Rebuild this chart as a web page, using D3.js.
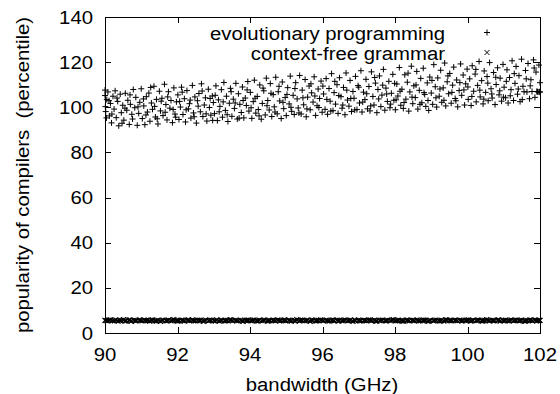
<!DOCTYPE html>
<html>
<head>
<meta charset="utf-8">
<script src="https://cdn.jsdelivr.net/npm/d3@7"></script>
<style>
  body { margin: 0; background: #fff; }
  text { font-family: "Liberation Sans", Arial, Helvetica, sans-serif; fill: #000; }
</style>
</head>
<body>
<div id="chart"></div>
<script>
// evolutionary programming, [GHz, percentile]
const evoPoints = [
  [90.00,107.6],[90.00,105.2],[90.01,100.3],[90.02,98.1],[90.05,103.4],[90.08,106.8],[90.12,96.2],[90.15,101.7],[90.18,93.1],[90.22,104.9],
  [90.25,99.2],[90.28,107.3],[90.31,95.4],[90.35,102.6],[90.38,91.8],[90.42,105.8],[90.45,97.6],[90.49,100.9],[90.52,94.3],[90.56,106.2],
  [90.60,98.7],[90.63,103.1],[90.67,92.4],[90.70,101.3],[90.74,96.9],[90.78,107.9],[90.82,99.8],[90.85,104.4],[90.89,92.0],[90.93,97.3],[90.96,102.2],
  [91.00,108.2],[91.03,95.0],[91.07,100.6],[91.10,92.3],[91.14,104.7],[91.17,97.9],[91.21,106.3],[91.24,93.8],[91.28,101.9],[91.31,99.1],
  [91.35,109.3],[91.39,95.7],[91.42,103.5],[91.46,92.6],[91.50,107.1],[91.53,98.4],[91.57,104.0],[91.60,96.3],[91.64,110.2],[91.68,101.2],
  [91.71,94.4],[91.75,106.9],[91.79,99.6],[91.82,103.0],[91.86,93.2],[91.90,108.6],[91.93,97.0],[91.97,102.4],
  [92.01,105.5],[92.04,94.6],[92.08,100.1],[92.11,108.9],[92.15,96.8],[92.19,103.8],[92.22,93.5],[92.26,107.4],[92.30,99.3],[92.33,101.6],
  [92.37,95.2],[92.41,109.7],[92.44,97.5],[92.48,104.6],[92.52,93.0],[92.55,102.9],[92.59,106.1],[92.63,98.0],[92.66,110.4],[92.70,95.9],
  [92.74,101.0],[92.77,104.2],[92.81,93.9],[92.85,108.0],[92.88,99.9],[92.92,96.5],[92.96,105.0],[92.99,102.1],
  [93.02,97.2],[93.06,109.5],[93.10,94.1],[93.13,103.3],[93.17,100.4],[93.21,107.8],[93.24,95.6],[93.28,111.0],[93.32,98.6],[93.35,104.9],
  [93.39,93.7],[93.43,101.8],[93.46,108.4],[93.50,96.0],[93.54,103.6],[93.57,99.5],[93.61,110.6],[93.65,94.8],[93.68,106.0],[93.72,101.3],
  [93.76,97.7],[93.79,109.0],[93.83,95.3],[93.87,104.1],[93.90,100.8],[93.94,111.4],[93.97,98.3],
  [94.01,106.6],[94.05,95.1],[94.09,102.5],[94.12,112.0],[94.16,97.4],[94.20,104.8],[94.23,99.0],[94.27,109.9],[94.31,94.7],[94.34,101.7],
  [94.38,107.3],[94.42,96.6],[94.45,112.9],[94.49,103.0],[94.53,98.8],[94.56,110.5],[94.60,95.9],[94.64,105.6],[94.67,100.2],[94.71,113.3],
  [94.75,97.1],[94.78,106.9],[94.82,102.8],[94.86,95.0],[94.89,111.2],[94.93,99.4],[94.97,104.3],
  [95.00,96.3],[95.04,108.7],[95.08,101.5],[95.11,113.8],[95.15,98.2],[95.19,105.3],[95.22,96.8],[95.26,110.9],[95.30,103.7],[95.33,99.7],
  [95.37,114.1],[95.41,97.0],[95.44,107.6],[95.48,101.1],[95.52,112.3],[95.55,95.8],[95.59,104.5],[95.63,109.4],[95.66,98.9],[95.70,106.4],
  [95.74,102.3],[95.77,113.5],[95.81,96.4],[95.85,100.7],[95.88,108.1],[95.92,103.9],[95.96,111.6],[95.99,97.8],
  [96.03,105.9],[96.07,99.1],[96.10,112.7],[96.14,96.9],[96.18,108.3],[96.21,102.7],[96.25,114.9],[96.29,98.5],[96.32,106.5],[96.36,101.4],
  [96.40,110.0],[96.43,97.3],[96.47,113.1],[96.51,104.7],[96.54,99.6],[96.58,108.8],[96.62,96.7],[96.65,115.2],[96.69,103.2],[96.73,100.5],
  [96.76,111.9],[96.80,98.1],[96.84,107.0],[96.87,104.0],[96.91,113.7],[96.95,99.0],[96.98,109.6],
  [97.02,101.9],[97.06,116.2],[97.09,97.9],[97.13,106.7],[97.17,103.4],[97.20,112.4],[97.24,99.3],[97.28,109.2],[97.31,98.4],[97.35,115.7],
  [97.39,104.8],[97.42,101.0],[97.46,110.7],[97.50,97.6],[97.53,107.9],[97.57,113.9],[97.61,100.3],[97.64,105.4],[97.68,116.8],[97.72,98.7],
  [97.75,108.5],[97.79,102.6],[97.83,111.5],[97.86,99.8],[97.90,106.2],[97.94,114.6],[97.97,103.1],
  [98.01,98.9],[98.05,110.3],[98.08,105.0],[98.12,117.6],[98.16,100.9],[98.19,108.0],[98.23,99.5],[98.27,114.4],[98.30,103.6],[98.34,111.1],
  [98.38,98.3],[98.41,106.8],[98.45,118.2],[98.49,101.6],[98.52,109.5],[98.56,104.3],[98.60,115.9],[98.63,99.2],[98.67,107.5],[98.71,112.8],
  [98.74,102.0],[98.78,117.3],[98.82,105.7],[98.85,100.4],[98.89,110.8],[98.93,98.6],[98.96,113.4],
  [99.00,106.3],[99.04,101.3],[99.07,118.9],[99.11,109.1],[99.15,100.1],[99.18,113.0],[99.22,104.9],[99.26,116.4],[99.29,102.2],[99.33,108.6],
  [99.37,119.6],[99.40,100.6],[99.44,111.3],[99.48,106.0],[99.51,115.0],[99.55,101.8],[99.59,109.8],[99.62,117.8],[99.66,103.9],[99.70,112.1],
  [99.73,100.2],[99.77,107.4],[99.81,119.2],[99.84,105.3],[99.88,114.3],[99.92,101.0],[99.95,110.4],[99.99,116.9],
  [100.02,103.5],[100.06,112.6],[100.10,100.8],[100.13,118.4],[100.17,107.1],[100.21,114.7],[100.24,102.4],[100.28,109.7],[100.32,120.3],[100.35,104.6],
  [100.39,111.8],[100.43,101.5],[100.46,116.1],[100.50,106.6],[100.54,113.6],[100.57,102.9],[100.61,119.8],[100.65,108.2],[100.68,104.1],[100.72,115.4],
  [100.76,101.2],[100.79,110.1],[100.83,117.5],[100.87,105.5],[100.90,112.9],[100.94,102.7],[100.98,119.0],
  [101.01,108.9],[101.05,104.2],[101.09,116.6],[101.12,101.9],[101.16,113.2],[101.20,107.8],[101.23,120.6],[101.27,103.0],[101.31,110.6],[101.34,118.1],
  [101.38,105.8],[101.42,114.0],[101.45,102.5],[101.49,121.3],[101.53,109.3],[101.56,106.9],[101.60,116.3],[101.64,106.8],[101.67,119.4],[101.71,103.8],
  [101.75,112.2],[101.78,107.0],[101.82,121.0],[101.86,104.4],[101.89,115.6],[101.93,106.9],[101.97,118.7],[102.00,110.9],[102.00,106.7],
  [90.04,95.3],[90.11,102.9],[90.19,97.0],[90.33,104.1],[90.47,92.9],[90.55,99.6],[90.69,105.5],[90.76,94.8],[90.91,100.2],
  [91.06,103.7],[91.13,96.6],[91.26,108.8],[91.37,100.4],[91.44,94.9],[91.55,102.7],[91.66,97.8],[91.73,104.6],[91.88,99.0],[91.95,95.6],
  [92.06,102.6],[92.13,106.7],[92.24,98.9],[92.35,103.2],[92.46,95.8],[92.57,100.5],[92.68,107.2],[92.79,97.1],[92.90,103.9],[92.97,94.2],
  [93.04,105.3],[93.15,98.0],[93.26,102.4],[93.37,96.7],[93.48,106.9],[93.59,101.9],[93.70,95.2],[93.81,103.0],[93.92,107.7],
  [94.03,99.8],[94.14,104.0],[94.25,96.2],[94.36,108.5],[94.47,100.7],[94.58,106.2],[94.69,97.9],[94.80,109.3],[94.91,102.2],
  [95.02,105.7],[95.13,100.0],[95.24,108.3],[95.35,97.5],[95.46,104.2],[95.57,99.3],[95.68,110.4],[95.79,105.0],[95.90,99.9],
  [96.01,109.4],[96.12,103.5],[96.23,98.3],[96.34,111.5],[96.45,105.2],[96.56,101.0],[96.67,107.6],[96.78,103.9],[96.89,98.8],
  [97.00,108.9],[97.11,102.3],[97.22,106.0],[97.33,100.6],[97.44,113.2],[97.55,103.7],[97.66,109.8],[97.77,105.9],[97.88,101.4],[97.99,110.6],
  [98.03,103.3],[98.14,107.1],[98.25,102.1],[98.36,115.1],[98.47,104.5],[98.58,109.9],[98.69,101.3],[98.80,106.5],[98.91,103.0],
  [99.02,111.9],[99.13,104.2],[99.24,108.1],[99.35,103.1],[99.46,113.9],[99.57,106.6],[99.68,102.9],[99.79,110.9],[99.90,107.7],
  [100.01,109.0],[100.12,104.8],[100.23,116.8],[100.34,107.6],[100.45,103.6],[100.56,110.7],[100.67,105.9],[100.78,113.3],[100.89,107.3],[100.99,104.5],
  [101.07,111.5],[101.18,105.1],[101.29,114.9],[101.40,108.1],[101.51,103.4],[101.62,112.6],[101.73,109.5],[101.84,117.4],[101.91,107.0],[101.95,106.8],[101.99,106.9]
];

// context-free grammar, [GHz, percentile]
const cfgPoints = [
  [90.00,5.6],[90.07,5.4],[90.15,5.8],[90.21,5.5],[90.30,5.7],[90.36,5.3],[90.44,5.55],[90.51,5.85],[90.58,5.45],[90.66,5.7],
  [90.72,5.2],[90.80,5.6],[90.87,5.5],[90.95,5.75],[91.02,5.4],[91.09,5.65],[91.17,5.55],[91.23,5.3],[91.31,5.75],[91.38,5.45],
  [91.46,5.6],[91.53,5.2],[91.60,5.7],[91.68,5.5],[91.75,5.65],[91.82,5.4],[91.90,5.85],[91.97,5.55],[92.04,5.45],[92.12,5.7],
  [92.19,5.3],[92.27,5.6],[92.34,5.5],[92.41,5.75],[92.49,5.4],[92.56,5.65],[92.63,5.55],[92.71,5.2],[92.78,5.7],[92.86,5.45],
  [92.93,5.6],[93.00,5.5],[93.08,5.75],[93.15,5.3],[93.22,5.65],[93.30,5.45],[93.37,5.55],[93.45,5.85],[93.52,5.4],[93.59,5.6],
  [93.67,5.5],[93.74,5.7],[93.81,5.2],[93.89,5.55],[93.96,5.65],[94.03,5.45],[94.11,5.75],[94.18,5.4],[94.26,5.6],[94.33,5.5],
  [94.40,5.7],[94.48,5.3],[94.55,5.55],[94.63,5.65],[94.70,5.45],[94.77,5.75],[94.85,5.5],[94.92,5.6],[94.99,5.4],[95.07,5.7],
  [95.14,5.3],[95.22,5.55],[95.29,5.85],[95.36,5.45],[95.44,5.65],[95.51,5.5],[95.58,5.6],[95.66,5.2],[95.73,5.7],[95.81,5.4],
  [95.88,5.55],[95.95,5.75],[96.03,5.5],[96.10,5.65],[96.18,5.3],[96.25,5.6],[96.32,5.45],[96.40,5.7],[96.47,5.55],[96.54,5.4],
  [96.62,5.75],[96.69,5.5],[96.77,5.65],[96.84,5.2],[96.91,5.55],[96.99,5.7],[97.06,5.45],[97.14,5.6],[97.21,5.4],[97.28,5.75],
  [97.36,5.5],[97.43,5.65],[97.50,5.3],[97.58,5.55],[97.65,5.7],[97.73,5.45],[97.80,5.6],[97.87,5.5],[97.95,5.85],[98.02,5.4],
  [98.10,5.65],[98.17,5.55],[98.24,5.3],[98.32,5.7],[98.39,5.45],[98.47,5.6],[98.54,5.5],[98.61,5.75],[98.69,5.4],[98.76,5.55],
  [98.83,5.65],[98.91,5.2],[98.98,5.6],[99.06,5.45],[99.13,5.7],[99.20,5.5],[99.28,5.55],[99.35,5.3],[99.43,5.75],[99.50,5.6],
  [99.57,5.4],[99.65,5.65],[99.72,5.5],[99.79,5.7],[99.87,5.45],[99.94,5.55],[100.02,5.75],[100.09,5.3],[100.16,5.6],[100.24,5.5],
  [100.31,5.65],[100.39,5.4],[100.46,5.55],[100.53,5.85],[100.61,5.45],[100.68,5.6],[100.75,5.5],[100.83,5.7],[100.90,5.3],[100.98,5.55],
  [101.05,5.65],[101.12,5.4],[101.20,5.75],[101.27,5.5],[101.35,5.6],[101.42,5.45],[101.49,5.7],[101.57,5.3],[101.64,5.55],[101.71,5.65],
  [101.79,5.4],[101.86,5.75],[101.94,5.5],[102.00,5.6],
  [90.03,5.5],[90.11,5.7],[90.26,5.4],[90.40,5.65],[90.55,5.3],[90.69,5.75],[90.84,5.45],[90.98,5.6],[91.13,5.5],[91.27,5.7],
  [91.42,5.35],[91.57,5.6],[91.71,5.45],[91.86,5.65],[92.00,5.3],[92.15,5.55],[92.30,5.75],[92.45,5.4],[92.60,5.6],[92.74,5.5],
  [92.89,5.7],[93.04,5.35],[93.19,5.6],[93.33,5.45],[93.48,5.7],[93.63,5.5],[93.78,5.4],[93.92,5.65],[94.07,5.55],[94.22,5.3],
  [94.37,5.7],[94.51,5.45],[94.66,5.6],[94.81,5.4],[94.96,5.75],[95.10,5.5],[95.25,5.35],[95.40,5.65],[95.55,5.5],[95.69,5.7],
  [95.84,5.4],[95.99,5.6],[96.14,5.45],[96.29,5.75],[96.43,5.35],[96.58,5.6],[96.73,5.5],[96.88,5.7],[97.02,5.4],[97.17,5.55],
  [97.32,5.65],[97.47,5.3],[97.61,5.6],[97.76,5.45],[97.91,5.7],[98.06,5.5],[98.20,5.35],[98.35,5.65],[98.50,5.55],[98.65,5.4],
  [98.79,5.7],[98.94,5.45],[99.09,5.6],[99.24,5.35],[99.39,5.75],[99.53,5.5],[99.68,5.6],[99.83,5.4],[99.98,5.65],[100.12,5.5],
  [100.27,5.7],[100.42,5.35],[100.57,5.6],[100.71,5.45],[100.86,5.75],[101.01,5.5],[101.16,5.4],[101.31,5.65],[101.45,5.55],[101.60,5.35],
  [101.75,5.7],[101.90,5.45],[101.98,5.6]
];

const xTicks = [90, 92, 94, 96, 98, 100, 102];
const yTicks = [0, 20, 40, 60, 80, 100, 120, 140];
const seriesNames = ["evolutionary programming", "context-free grammar"];

const W = 560, H = 394;
const margin = {top: 17, right: 20, bottom: 61, left: 105};
const FONT = 18, STRETCH = 1.13;

const svg = d3.select("#chart").append("svg")
  .attr("width", W)
  .attr("height", H);

const x = d3.scaleLinear().domain([90, 102]).range([margin.left, W - margin.right]);
const y = d3.scaleLinear().domain([0, 140]).range([H - margin.bottom, margin.top]);

const plus = "M-3,0H3M0,-3V3";
const cross = "M-2.5,-2.5L2.5,2.5M-2.5,2.5L2.5,-2.5";

// text is drawn a bit wider than the font, like the original terminal
function label(g, px, py, str, anchor, rot) {
  return g.append("text")
    .attr("transform", "translate(" + px + "," + py + ")" + (rot ? " rotate(" + rot + ")" : "") + " scale(" + STRETCH + ",1)")
    .attr("text-anchor", anchor)
    .attr("font-size", FONT)
    .style("white-space", "pre")
    .text(str);
}

// frame
svg.append("rect")
  .attr("x", x(90) + 0.5).attr("y", y(140) + 0.5)
  .attr("width", x(102) - x(90)).attr("height", y(0) - y(140))
  .attr("fill", "none").attr("stroke", "#000").attr("stroke-width", 1);

// ticks, mirrored inside all four sides
const tickLen = 6;
const ticks = svg.append("g").attr("stroke", "#000").attr("stroke-width", 1);
for (let t of xTicks) {
  let px = Math.round(x(t)) + 0.5;
  ticks.append("line").attr("x1", px).attr("x2", px).attr("y1", y(0)).attr("y2", y(0) - tickLen);
  ticks.append("line").attr("x1", px).attr("x2", px).attr("y1", y(140)).attr("y2", y(140) + tickLen);
}
for (let t of yTicks) {
  let py = Math.round(y(t)) + 0.5;
  ticks.append("line").attr("x1", x(90)).attr("x2", x(90) + tickLen).attr("y1", py).attr("y2", py);
  ticks.append("line").attr("x1", x(102)).attr("x2", x(102) - tickLen).attr("y1", py).attr("y2", py);
}

// tick labels
const tickLabels = svg.append("g");
for (let t of xTicks) label(tickLabels, x(t), 361, String(t), "middle");
for (let t of yTicks) label(tickLabels, 93, y(t) + 6.5, String(t), "end");

// axis titles
label(svg, 322, 391, "bandwidth (GHz)", "middle");
label(svg, 29, 175, "popularity of compilers  (percentile)", "middle", -90);

// points
svg.append("g").selectAll("path").data(cfgPoints).join("path")
  .attr("transform", d => "translate(" + x(d[0]) + "," + y(d[1]) + ")")
  .attr("d", cross).attr("fill", "none").attr("stroke", "#000").attr("stroke-width", 1.3);
svg.append("g").selectAll("path").data(evoPoints).join("path")
  .attr("transform", d => "translate(" + x(d[0]) + "," + y(d[1]) + ")")
  .attr("d", plus).attr("fill", "none").attr("stroke", "#000").attr("stroke-width", 1);

// legend
const legend = svg.append("g");
const markers = [plus, cross];
seriesNames.forEach((name, i) => {
  let base = 39.5 + i * 20;
  label(legend, 445, base, name, "end");
  legend.append("path")
    .attr("transform", "translate(487," + (base - 7) + ")")
    .attr("d", markers[i]).attr("fill", "none").attr("stroke", "#000").attr("stroke-width", 1);
});
</script>
</body>
</html>
